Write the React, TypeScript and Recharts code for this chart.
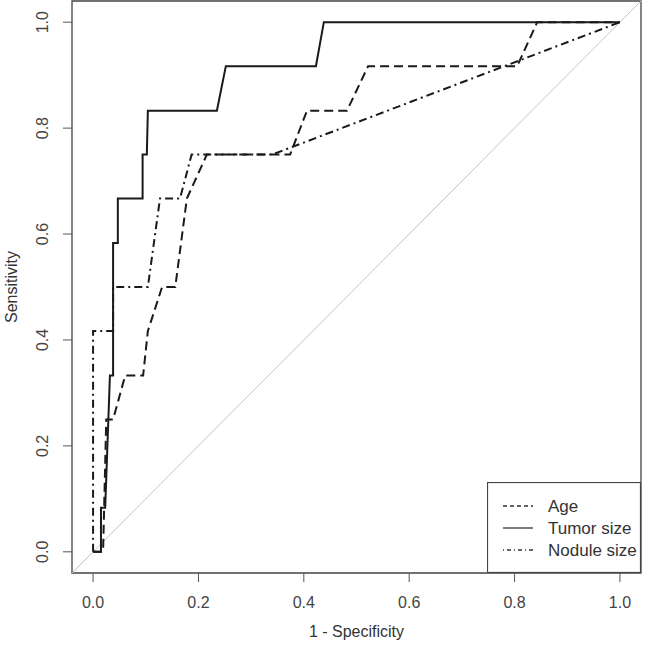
import { LineChart, Line, XAxis, YAxis, ReferenceLine, ReferenceArea, Legend, Label } from "recharts";

// 1 - specificity (x) and sensitivity (y) for each ROC curve
const ageX = [0, 0.019, 0.025, 0.038, 0.061, 0.095, 0.104, 0.131, 0.156, 0.178, 0.216, 0.374, 0.406, 0.482, 0.522, 0.805, 0.843, 1];
const ageY = [0, 0, 0.25, 0.25, 0.333, 0.333, 0.417, 0.5, 0.5, 0.667, 0.75, 0.75, 0.833, 0.833, 0.917, 0.917, 1, 1];

const tumorX = [0, 0.015, 0.015, 0.023, 0.032, 0.038, 0.038, 0.047, 0.047, 0.094, 0.094, 0.102, 0.104, 0.235, 0.252, 0.423, 0.438, 1];
const tumorY = [0, 0, 0.083, 0.083, 0.333, 0.333, 0.583, 0.583, 0.667, 0.667, 0.75, 0.75, 0.833, 0.833, 0.917, 0.917, 1, 1];

const noduleX = [0, 0, 0.038, 0.038, 0.104, 0.127, 0.165, 0.187, 0.34, 1];
const noduleY = [0, 0.417, 0.417, 0.5, 0.5, 0.667, 0.667, 0.75, 0.75, 1];

const ticks = [0, 0.2, 0.4, 0.6, 0.8, 1];
const tickLabels = ["0.0", "0.2", "0.4", "0.6", "0.8", "1.0"];

const legendItems = [
  { name: "Age", dash: "4 3" },
  { name: "Tumor size", dash: undefined },
  { name: "Nodule size", dash: "1 3 4 3" },
];

const zip = (xs: number[], ys: number[]) => xs.map((x, i) => ({ x, y: ys[i] }));
const fmt = (v: number) => tickLabels[ticks.indexOf(v)] ?? String(v);

const FONT = "'Liberation Sans', Arial, sans-serif";
const INK = "#1a1a1a";
const LO = -0.04, HI = 1.04;

function YTick(props: any) {
  const { x, y, payload } = props;
  return (
    <text x={x} y={y} transform={`rotate(-90, ${x}, ${y})`} textAnchor="middle" fill="#444" fontSize={16} fontFamily={FONT}>
      {fmt(payload.value)}
    </text>
  );
}

function LegendBox() {
  return (
    <svg width={154} height={91} style={{ display: "block" }}>
      <rect x={0.5} y={0.5} width={153} height={90} fill="#fff" stroke="#444" strokeWidth={1.2} />
      {legendItems.map((it, i) => {
        const cy = 24 + i * 22;
        return (
          <g key={it.name}>
            <line x1={16} x2={46} y1={cy} y2={cy} stroke="#333" strokeWidth={1.3} strokeDasharray={it.dash} />
            <text x={61} y={cy} dy="0.35em" fontSize={17} fill="#333" fontFamily={FONT}>{it.name}</text>
          </g>
        );
      })}
    </svg>
  );
}

export default function App() {
  return (
    <div style={{ position: "absolute", left: 0, top: 0, background: "#fff" }}>
      <LineChart width={645} height={646} margin={{ top: 1, right: 4, left: 0, bottom: 0 }}>
        <XAxis
          dataKey="x"
          type="number"
          domain={[LO, HI]}
          ticks={ticks}
          tickFormatter={fmt}
          height={73}
          axisLine={false}
          tickSize={9}
          tickMargin={15}
          tickLine={{ stroke: "#555" }}
          tick={{ fill: "#444", fontSize: 16, fontFamily: FONT }}
        >
          <Label value="1 - Specificity" position="insideBottom" offset={9} fill="#333" fontSize={16} fontFamily={FONT} />
        </XAxis>
        <YAxis
          dataKey="y"
          type="number"
          domain={[LO, HI]}
          ticks={ticks}
          width={72}
          axisLine={false}
          tickSize={9}
          tickMargin={15}
          tickLine={{ stroke: "#555" }}
          tick={(p: any) => <YTick {...p} />}
        >
          <Label
            content={(p: any) => {
              const vb = p.viewBox;
              const cy = vb.y + vb.height / 2;
              return (
                <text x={17} y={cy} transform={`rotate(-90, 17, ${cy})`} textAnchor="middle" fill="#333" fontSize={16} fontFamily={FONT}>
                  Sensitivity
                </text>
              );
            }}
          />
        </YAxis>
        <ReferenceLine segment={[{ x: LO, y: LO }, { x: HI, y: HI }]} stroke="#c4c4c4" strokeWidth={1} />
        <Line data={zip(ageX, ageY)} dataKey="y" type="linear" stroke={INK} strokeWidth={2} strokeDasharray="9 5" dot={false} isAnimationActive={false} />
        <Line data={zip(tumorX, tumorY)} dataKey="y" type="linear" stroke={INK} strokeWidth={2} dot={false} isAnimationActive={false} />
        <Line data={zip(noduleX, noduleY)} dataKey="y" type="linear" stroke={INK} strokeWidth={2} strokeDasharray="8 4 2 4" dot={false} isAnimationActive={false} />
        <ReferenceArea x1={LO} x2={HI} y1={LO} y2={HI} fill="none" stroke="#444" strokeWidth={1.3} ifOverflow="visible" />
        <Legend
          layout="vertical"
          align="center"
          verticalAlign="middle"
          content={() => <LegendBox />}
          wrapperStyle={{ position: "absolute", left: 487, top: 482, width: 154, height: 91 }}
        />
      </LineChart>
    </div>
  );
}
